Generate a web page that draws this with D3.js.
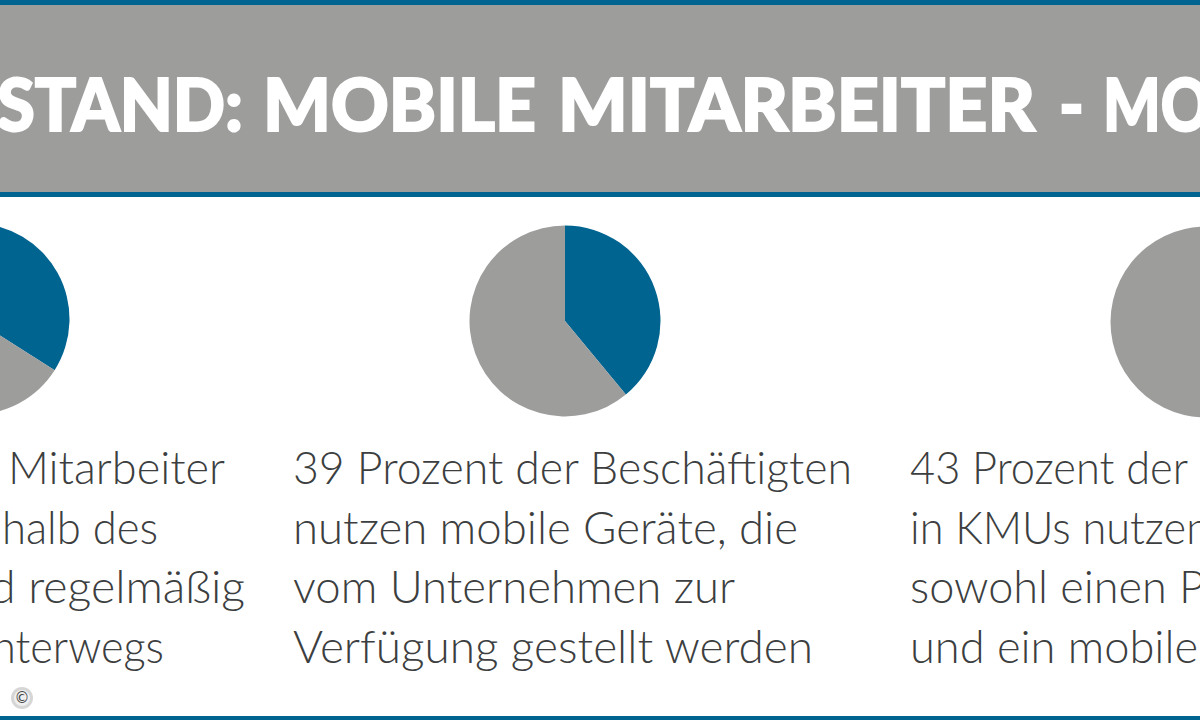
<!DOCTYPE html>
<html>
<head>
<meta charset="utf-8">
<script src="https://cdn.jsdelivr.net/npm/d3@7"></script>
<style>
html,body{margin:0;padding:0;background:#fff;overflow:hidden}
svg{display:block}
</style>
</head>
<body>
<div id="chart"></div>
<script>
const width = 1200, height = 720;

// values
const shares = [34, 39, 43];
const sliceNames = ["ja", "nein"];
const titleParts = ["STAND:", "MOBILE", "MITARBEITER", "-", "MO"];
const textLeft = ["Mitarbeiter", "halb des", "d regelmäßig", "nterwegs"];
const textMiddle = ["39 Prozent der Beschäftigten", "nutzen mobile Geräte, die", "vom Unternehmen zur", "Verfügung gestellt werden"];
const textRight = ["43 Prozent der", "in KMUs nutzen", "sowohl einen P", "und ein mobile"];

// layout
const blue = "#006491", grey = "#9d9d9c", ink = "#3c3e40";
const pieX = [-26, 565, 1206];
const pieY = [319, 321, 322];
const pieR = 95.5;
const titleX = [-3, 263, 558, 1059, 1103];
const titleEnd = [243, 536, 1035, 1084, 1210];
const leftX = [8, 2, -10, -8], leftEnd = [225, 158, 245, 164];
const middleEnd = [852, 798, 735, 813];
const rightEnd = [1188, 1210, 1205, 1198];
const lineY = d3.scalePoint().domain([0,1,2,3]).range([484, 663]);

const svg = d3.select("#chart").append("svg")
  .attr("width", width)
  .attr("height", height)
  .attr("viewBox", `0 0 ${width} ${height}`);

// header band
svg.append("rect").attr("width", width).attr("height", 197).attr("fill", blue);
svg.append("rect").attr("y", 5).attr("width", width).attr("height", 187).attr("fill", grey);
svg.append("rect").attr("y", 716).attr("width", width).attr("height", 4).attr("fill", blue);

svg.append("g").selectAll("text")
  .data(titleParts)
  .join("text")
  .attr("x", (d,i)=>titleX[i])
  .attr("y", 131)
  .attr("textLength", (d,i)=>titleEnd[i]-titleX[i])
  .attr("lengthAdjust", "spacingAndGlyphs")
  .attr("fill", "#fff")
  .attr("stroke", "#fff")
  .attr("stroke-width", 2)
  .style("font", "900 72px Lato")
  .text(d=>d);

// pies
const pie = d3.pie().sort(null).value(d=>d.value);
const arc = d3.arc().innerRadius(0).outerRadius(pieR);
const sliceColor = d3.scaleOrdinal().domain(sliceNames).range([blue, grey]);

shares.forEach((share,i)=>{
  const slices = pie([{name:sliceNames[0],value:share},{name:sliceNames[1],value:100-share}]);
  svg.append("g")
    .attr("transform", `translate(${pieX[i]},${pieY[i]})`)
    .selectAll("path")
    .data(slices)
    .join("path")
    .attr("d", arc)
    .attr("fill", d=>sliceColor(d.data.name));
});

// captions, fitted to the line widths of the picture
function caption(lines, x, end){
  svg.append("g").selectAll("text")
    .data(lines)
    .join("text")
    .attr("x", (d,i)=>x[i])
    .attr("y", (d,i)=>lineY(i))
    .attr("textLength", (d,i)=>end[i]-x[i])
    .attr("lengthAdjust", "spacingAndGlyphs")
    .attr("fill", ink)
    .style("font", "300 45px Lato")
    .text(d=>d);
}
caption(textLeft, leftX, leftEnd);
caption(textMiddle, textMiddle.map(()=>293), middleEnd);
caption(textRight, textRight.map(()=>910), rightEnd);

// copyright badge
svg.append("circle").attr("cx", 22).attr("cy", 698).attr("r", 11).attr("fill", "#c4c4c4").attr("opacity", 0.7);
svg.append("circle").attr("cx", 22).attr("cy", 698).attr("r", 8).attr("fill", "#efefef");
svg.append("text").attr("x", 22).attr("y", 703).attr("text-anchor", "middle")
  .attr("fill", "#444").style("font", "15px 'DejaVu Sans'").text("©");
</script>
</body>
</html>
